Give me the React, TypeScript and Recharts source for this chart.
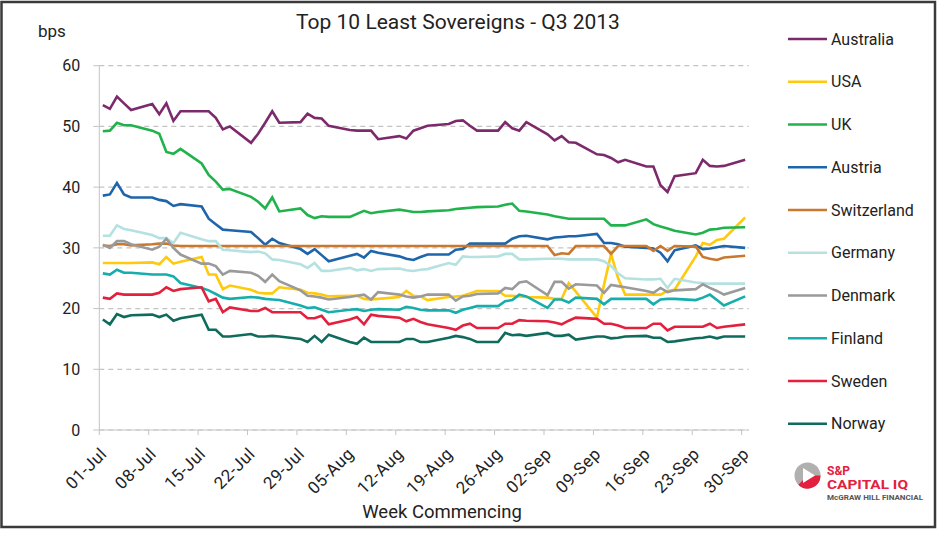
import React from 'react';
import { LineChart, Line, XAxis, YAxis, CartesianGrid } from 'recharts';

// Business days of Q3 2013, as day offsets from 01-Jul
const dayOffsets = [
  0, 1, 2, 3, 4, 7, 8, 9, 10, 11, 14, 15, 16, 17, 18, 21, 22, 23, 24, 25,
  28, 29, 30, 31, 32, 35, 36, 37, 38, 39, 42, 43, 44, 45, 46, 49, 50, 51, 52, 53,
  56, 57, 58, 59, 60, 63, 64, 65, 66, 67, 70, 71, 72, 73, 74, 77, 78, 79, 80, 81,
  84, 85, 86, 87, 88, 91,
];

const weekTicks = [0, 7, 14, 21, 28, 35, 42, 49, 56, 63, 70, 77, 84, 91];
const weekLabels = [
  '01-Jul', '08-Jul', '15-Jul', '22-Jul', '29-Jul', '05-Aug', '12-Aug',
  '19-Aug', '26-Aug', '02-Sep', '09-Sep', '16-Sep', '23-Sep', '30-Sep',
];
const yTicks = [0, 10, 20, 30, 40, 50, 60];

const australia = [
  53.5, 52.9, 54.9, 53.8, 52.7, 53.7, 52.0, 53.8, 50.9, 52.5,
  52.5, 52.5, 51.4, 49.5, 50.0, 47.3, 48.8, 50.6, 52.5, 50.6,
  50.7, 52.1, 51.4, 51.3, 50.1, 49.4, 49.3, 49.3, 49.3, 47.9,
  48.4, 48.0, 49.3, 49.7, 50.1, 50.4, 50.9, 51.0, 50.1, 49.3,
  49.3, 50.7, 49.7, 49.3, 50.7, 48.7, 47.7, 48.4, 47.4, 47.3,
  45.4, 45.3, 44.8, 44.1, 44.5, 43.4, 43.4, 40.3, 39.2, 41.8,
  42.3, 44.5, 43.5, 43.4, 43.5, 44.5,
];
const usa = [
  27.5, 27.5, 27.5, 27.5, 27.5, 27.6, 27.3, 28.5, 27.4, 27.7,
  28.5, 25.6, 25.6, 23.2, 23.8, 23.1, 22.6, 22.5, 22.5, 23.5,
  23.1, 22.6, 22.5, 22.3, 22.0, 22.1, 22.1, 21.6, 21.5, 21.6,
  21.9, 22.9, 22.1, 22.0, 21.4, 21.9, 22.0, 22.1, 22.5, 22.9,
  22.9, 22.1, 22.1, 22.0, 21.9, 21.8, 21.6, 21.6, 24.2, 22.8,
  18.5, 23.9, 29.0, 25.0, 22.3, 22.3, 22.3, 22.3, 22.9, 23.1,
  28.6, 30.8, 30.5, 31.3, 31.5, 35.0,
];
const uk = [
  49.2, 49.3, 50.6, 50.2, 50.2, 49.3, 48.8, 45.8, 45.5, 46.3,
  43.9, 42.0, 40.9, 39.6, 39.7, 38.4, 37.6, 36.5, 38.3, 36.0,
  36.5, 35.4, 34.9, 35.2, 35.1, 35.1, 35.6, 36.1, 35.7, 35.9,
  36.3, 36.1, 35.9, 35.9, 36.0, 36.2, 36.4, 36.5, 36.6, 36.7,
  36.8, 37.1, 37.3, 36.1, 36.0, 35.5, 35.2, 35.0, 34.8, 34.8,
  34.8, 34.8, 33.7, 33.7, 33.7, 34.7, 33.9, 33.5, 33.2, 32.8,
  32.2, 32.5, 33.0, 33.1, 33.3, 33.4,
];
const austria = [
  38.6, 38.8, 40.7, 38.8, 38.3, 38.3, 37.9, 37.7, 36.9, 37.2,
  36.8, 34.8, 33.9, 33.0, 32.9, 32.6, 31.6, 30.5, 31.5, 30.8,
  29.8, 29.0, 29.8, 28.8, 27.8, 28.7, 29.0, 28.4, 29.5, 29.2,
  28.6, 28.2, 28.0, 28.5, 28.9, 28.9, 29.7, 29.8, 30.7, 30.7,
  30.7, 30.7, 31.5, 31.9, 32.0, 31.4, 31.7, 31.8, 31.9, 31.9,
  32.3, 30.8, 30.8, 30.6, 30.2, 30.0, 29.9, 29.2, 27.8, 29.6,
  30.4, 29.8, 29.9, 30.1, 30.3, 30.0,
];
const switzerland = [
  30.4, 30.3, 30.6, 30.6, 30.4, 30.6, 30.7, 30.7, 30.4, 30.3,
  30.3, 30.3, 30.3, 30.3, 30.3, 30.3, 30.3, 30.3, 30.3, 30.3,
  30.3, 30.3, 30.3, 30.3, 30.3, 30.3, 30.3, 30.3, 30.3, 30.3,
  30.3, 30.3, 30.3, 30.3, 30.3, 30.3, 30.3, 30.3, 30.3, 30.3,
  30.3, 30.3, 30.3, 30.3, 30.3, 30.3, 28.8, 29.1, 29.0, 30.3,
  30.3, 30.3, 29.0, 30.3, 30.3, 30.3, 29.5, 30.3, 29.5, 30.3,
  30.2, 28.5, 28.2, 28.0, 28.4, 28.7,
];
const germany = [
  32.0, 32.0, 33.7, 33.1, 32.9, 32.1, 31.6, 31.6, 30.8, 32.5,
  31.4, 31.1, 31.1, 29.7, 29.6, 29.3, 29.4, 29.1, 28.1, 28.0,
  27.3, 26.7, 27.5, 26.2, 26.2, 26.7, 26.3, 26.5, 26.2, 26.5,
  26.6, 26.3, 26.2, 26.4, 26.5, 27.5, 27.2, 28.6, 28.5, 28.5,
  28.6, 29.0, 29.0, 28.1, 28.1, 28.2, 28.2, 28.2, 28.1, 28.1,
  28.1, 27.8, 27.0, 25.8, 25.0, 24.8, 24.8, 24.9, 23.4, 24.9,
  24.3, 24.2, 24.1, 24.1, 24.1, 24.1,
];
const denmark = [
  30.5, 30.0, 31.1, 31.1, 30.6, 29.7, 30.2, 31.5, 30.0, 28.9,
  27.4, 27.4, 27.0, 25.6, 26.2, 25.9, 25.4, 24.4, 25.6, 24.5,
  23.0, 22.1, 22.0, 21.8, 21.5, 21.9, 22.1, 22.3, 21.5, 22.7,
  22.3, 22.0, 21.8, 22.0, 22.3, 22.3, 21.3, 22.0, 22.1, 22.4,
  22.5, 23.4, 23.2, 24.3, 24.5, 22.2, 24.4, 24.4, 23.3, 24.0,
  23.8, 22.6, 23.9, 23.7, 23.5, 22.9, 22.6, 23.4, 22.7, 23.0,
  23.2, 24.0, 23.4, 22.9, 22.3, 23.4,
];
const finland = [
  25.8, 25.6, 26.4, 25.9, 25.9, 25.6, 25.6, 25.6, 25.3, 24.2,
  23.4, 23.0, 22.4, 21.8, 21.6, 21.9, 21.8, 21.6, 21.5, 21.4,
  20.5, 20.1, 20.2, 19.8, 19.4, 19.8, 19.9, 19.6, 19.8, 19.9,
  19.8, 20.3, 20.1, 19.8, 19.7, 19.7, 19.3, 19.8, 20.1, 20.4,
  20.4, 21.2, 21.4, 22.3, 22.0, 20.1, 21.5, 21.5, 21.0, 21.8,
  21.6, 20.7, 21.6, 21.6, 21.6, 21.6, 20.7, 21.5, 21.6, 21.6,
  21.4, 21.8, 22.3, 21.4, 20.5, 22.0,
];
const sweden = [
  21.8, 21.6, 22.5, 22.3, 22.3, 22.3, 22.6, 23.5, 22.9, 23.2,
  23.5, 21.2, 21.6, 19.4, 20.2, 19.6, 19.6, 20.1, 19.4, 19.4,
  19.4, 18.4, 18.4, 18.8, 17.4, 18.2, 18.6, 17.4, 19.0, 18.8,
  18.5, 17.9, 18.3, 17.8, 17.4, 16.8, 16.5, 17.2, 17.5, 16.8,
  16.8, 17.5, 17.5, 18.1, 18.0, 17.9, 17.7, 17.4, 18.0, 18.5,
  18.3, 17.5, 17.5, 17.2, 16.8, 16.8, 17.5, 17.5, 16.4, 17.0,
  17.0, 17.0, 17.5, 16.8, 17.0, 17.4,
];
const norway = [
  18.2, 17.4, 19.1, 18.6, 18.9, 19.0, 18.6, 19.0, 18.0, 18.4,
  19.0, 16.5, 16.5, 15.4, 15.4, 15.8, 15.4, 15.4, 15.5, 15.4,
  15.0, 14.5, 15.5, 14.5, 15.7, 14.5, 14.2, 15.2, 14.5, 14.5,
  14.5, 15.0, 15.0, 14.5, 14.5, 15.2, 15.5, 15.3, 15.0, 14.5,
  14.5, 16.0, 15.6, 15.7, 15.5, 16.0, 15.5, 15.5, 15.7, 14.9,
  15.4, 15.4, 15.1, 15.2, 15.4, 15.5, 15.2, 15.2, 14.5, 14.6,
  15.1, 15.2, 15.4, 15.1, 15.4, 15.4,
];

const seriesNames = ['Australia', 'USA', 'UK', 'Austria', 'Switzerland', 'Germany', 'Denmark', 'Finland', 'Sweden', 'Norway'];
const seriesValues = [australia, usa, uk, austria, switzerland, germany, denmark, finland, sweden, norway];
const seriesColors = ['#7d2a6c', '#ffc90e', '#22b24c', '#1f65ab', '#c8782f', '#b5e1e1', '#9a9a9a', '#16adad', '#e3203e', '#0f6b5c'];

const data = dayOffsets.map((d, i) => {
  const row: Record<string, number> = { d: d + 0.5 };
  seriesNames.forEach((n, s) => {
    row[n] = seriesValues[s][i];
  });
  return row;
});

const FONT = "Roboto, 'DejaVu Sans', sans-serif";

const XTick = (props: any) => {
  const { x, y, payload } = props;
  const idx = weekTicks.indexOf(payload.value);
  return (
    <g transform={`translate(${x + 8.5},${y + 18})`}>
      <text
        textAnchor="end"
        transform="rotate(-45)"
        fontSize={17}
        letterSpacing={0.5}
        fill="#222"
        fontFamily={FONT}
      >
        {weekLabels[idx]}
      </text>
    </g>
  );
};

const legendTop = 39;
const legendStep = 42.75;

export default function App() {
  return (
    <div style={{ position: 'absolute', left: 0, top: 0, width: 946, height: 536, background: '#fff' }}>
      <div style={{ position: 'absolute', left: 0, top: 0 }}>
        <LineChart
          width={946}
          height={536}
          data={data}
          margin={{ top: 65.7, right: 197.3, bottom: 26, left: 40 }}
        >
          <CartesianGrid vertical={false} stroke="#c4c4c4" strokeDasharray="5 4" strokeWidth={1.2} />
          <XAxis
            dataKey="d"
            type="number"
            domain={[0, 92]}
            ticks={weekTicks}
            interval={0}
            height={80}
            tick={<XTick />}
            tickSize={5}
            axisLine={{ stroke: '#c4c4c4' }}
            tickLine={{ stroke: '#c4c4c4' }}
            allowDataOverflow
          />
          <YAxis
            type="number"
            domain={[0, 60]}
            ticks={yTicks}
            width={59.3}
            tickSize={6}
            tickMargin={13}
            axisLine={{ stroke: '#c4c4c4' }}
            tickLine={{ stroke: '#c4c4c4' }}
            tick={{ fontSize: 16, fill: '#222', fontFamily: FONT }}
          />
          {seriesNames.map((n, s) => (
            <Line
              key={n}
              type="linear"
              dataKey={n}
              stroke={seriesColors[s]}
              strokeWidth={2.6}
              dot={false}
              activeDot={false}
              isAnimationActive={false}
            />
          ))}
        </LineChart>
      </div>
      <svg
        width={946}
        height={536}
        style={{ position: 'absolute', left: 0, top: 0, pointerEvents: 'none' }}
        fontFamily={FONT}
      >
        <rect x={1.5} y={2} width={933.5} height={525} fill="none" stroke="#3a3a3a" strokeWidth={2.5} />
        <text x={458} y={29} textAnchor="middle" fontSize={21} fill="#222">
          Top 10 Least Sovereigns - Q3 2013
        </text>
        <text x={38} y={37} fontSize={17} fill="#222">bps</text>
        <text x={442} y={518} textAnchor="middle" fontSize={18.5} fill="#222">Week Commencing</text>
        {seriesNames.map((n, s) => {
          const cy = legendTop + s * legendStep;
          return (
            <g key={n}>
              <line x1={788} x2={827} y1={cy} y2={cy} stroke={seriesColors[s]} strokeWidth={2.6} />
              <text x={831} y={cy + 5.5} fontSize={16} fill="#222">{n}</text>
            </g>
          );
        })}
        <g>
          <circle cx={807.5} cy={475.5} r={13} fill="#b0b0b0" />
          <path d="M807.5,475.5 L820.5,475.5 A13,13 0 0 1 798.3,484.7 Z" fill="#e3203e" />
          <polygon points="803,468 815,475.5 803,483" fill="#fff" />
          <text x={827} y={475} fontSize={12} fontWeight="bold" fill="#e3203e" textLength={23} lengthAdjust="spacingAndGlyphs">S&amp;P</text>
          <text x={827} y={488.5} fontSize={12} fontWeight="bold" fill="#e3203e" textLength={81} lengthAdjust="spacingAndGlyphs">CAPITAL IQ</text>
          <text x={827} y={499.5} fontSize={6.5} fontWeight="bold" fill="#555" textLength={96} lengthAdjust="spacingAndGlyphs">McGRAW HILL FINANCIAL</text>
        </g>
      </svg>
    </div>
  );
}
